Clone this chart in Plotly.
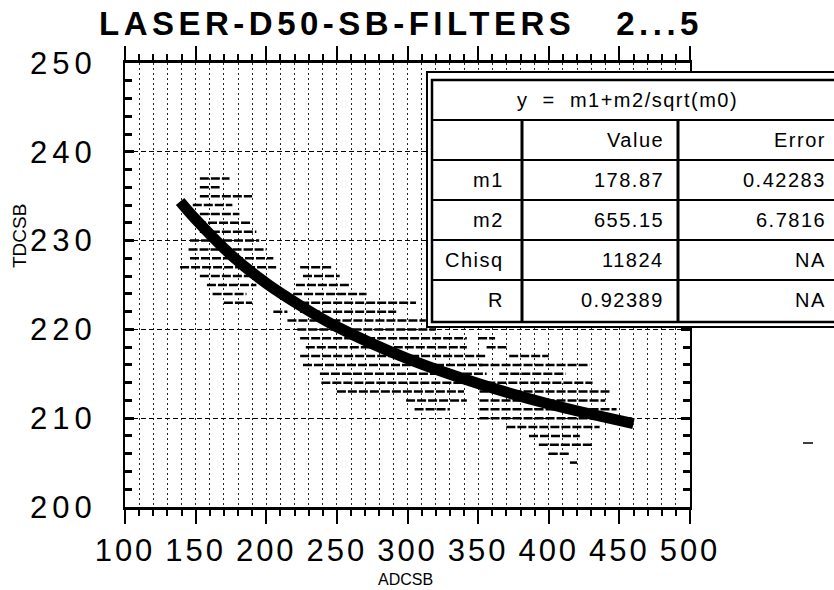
import plotly.graph_objects as go

# ---------------- data ----------------
x_ticks = [100, 150, 200, 250, 300, 350, 400, 450, 500]
x_tick_labels = ["100", "150", "200", "250", "300", "350", "400", "450", "500"]
y_ticks = [200, 210, 220, 230, 240, 250]
y_tick_labels = ["200", "210", "220", "230", "240", "250"]

# horizontal streaks of the binned scatter: (TDC value, ADC start, ADC end)
streak_y = [237, 236, 235, 234, 233, 232, 231, 230, 229, 228,
            227, 227, 226, 226, 225, 225, 224, 224, 223, 223,
            222, 222, 221, 220, 219, 219, 218, 218, 217, 217,
            216, 216, 215, 215, 214, 213, 213, 212, 212, 211,
            211, 210, 209, 208, 207, 206, 205]
streak_x0 = [153, 153, 153, 148, 153, 151, 153, 146, 145, 146,
             139, 224, 153, 226, 158, 221, 162, 219, 170, 224,
             205, 224, 215, 222, 224, 350, 228, 356, 224, 372,
             226, 351, 238, 365, 239, 250, 351, 299, 351, 305,
             351, 351, 370, 386, 393, 400, 415]
streak_x1 = [174, 167, 190, 176, 181, 190, 193, 195, 200, 205,
             207, 247, 200, 252, 193, 259, 186, 271, 190, 306,
             215, 292, 313, 320, 342, 362, 342, 370, 356, 400,
             353, 429, 356, 412, 431, 340, 443, 342, 440, 330,
             448, 460, 436, 422, 431, 415, 420]

# fitted curve y = m1 + m2/sqrt(m0)
fit_x = [139, 150, 175, 200, 225, 250, 300, 350, 400, 460]
fit_y = [234.4, 232.4, 228.4, 225.2, 222.6, 220.3, 216.7, 213.9, 211.6, 209.4]

# fit table
fit_title = "y  =  m1+m2/sqrt(m0)"
param_names = ["m1", "m2", "Chisq", "R"]
param_values = ["178.87", "655.15", "11824", "0.92389"]
param_errors = ["0.42283", "6.7816", "NA", "NA"]

# ---------------- layout helpers ----------------
L, R, T, B = 125, 144, 63, 83
W, H = 834, 590
PW, PH = W - L - R, H - T - B


def px(xp):
    return (xp - L) / PW


def py(yp):
    return (H - B - yp) / PH


def spaced(t, s):
    return f'<span style="letter-spacing:{s}px">{t}</span>'


fig = go.Figure()

sx, sy = [], []
for yv, a, b in zip(streak_y, streak_x0, streak_x1):
    sx += [a, b, None]
    sy += [yv, yv, None]
fig.add_trace(go.Scatter(x=sx, y=sy, mode="lines",
                         line=dict(color="black", width=2.5, dash="9px,2px"),
                         hoverinfo="skip", showlegend=False))
fig.add_trace(go.Scatter(x=fit_x, y=fit_y, mode="lines",
                         line=dict(color="black", width=11, shape="spline"),
                         showlegend=False))

font_tick = dict(family="Liberation Sans, Arial, sans-serif", size=31, color="black")

fig.update_xaxes(
    range=[100, 500], tickmode="array", tickvals=x_ticks,
    ticktext=[spaced(t, 3) for t in x_tick_labels],
    tickfont=font_tick, ticks="outside", ticklen=14, tickwidth=1.5,
    tickcolor="black", ticklabelstandoff=0,
    showline=True, linecolor="black", linewidth=2.5, mirror="allticks",
    showgrid=True, gridcolor="#222", gridwidth=1, griddash="2px,3px",
    minor=dict(dtick=10, ticks="outside", ticklen=6, tickwidth=1.5,
               tickcolor="black", showgrid=True, gridcolor="#222",
               gridwidth=1, griddash="2px,3px"),
    zeroline=False,
)
fig.update_yaxes(
    range=[200, 250], tickmode="array", tickvals=y_ticks,
    ticktext=[spaced(t, 5) for t in y_tick_labels],
    tickfont=font_tick, ticks="inside", ticklen=9, tickwidth=2.5,
    tickcolor="black", ticklabelstandoff=20,
    showline=True, linecolor="black", linewidth=2, mirror="allticks",
    showgrid=True, gridcolor="black", gridwidth=1.3, griddash="5px,3px",
    minor=dict(dtick=2, ticks="inside", ticklen=7, tickwidth=2.5,
               tickcolor="black", showgrid=False),
    zeroline=False,
)

shapes = []
# table frame (white, covers the grid)
shapes.append(dict(type="rect", xref="paper", yref="paper",
                   x0=px(427), x1=px(870), y0=py(72), y1=py(327),
                   line=dict(color="black", width=2), fillcolor="white"))
shapes.append(dict(type="rect", xref="paper", yref="paper",
                   x0=px(432), x1=px(870), y0=py(80), y1=py(322),
                   line=dict(color="black", width=2.5), fillcolor="white"))
for yl in [120, 160, 200, 240, 280]:
    shapes.append(dict(type="line", xref="paper", yref="paper",
                       x0=px(432), x1=px(870), y0=py(yl), y1=py(yl),
                       line=dict(color="black", width=2)))
for xl in [522, 678]:
    shapes.append(dict(type="line", xref="paper", yref="paper",
                       x0=px(xl), x1=px(xl), y0=py(120), y1=py(322),
                       line=dict(color="black", width=3)))
# small stray mark right of the plot
shapes.append(dict(type="line", xref="paper", yref="paper",
                   x0=px(803), x1=px(813), y0=py(443), y1=py(443),
                   line=dict(color="black", width=1.5)))

tfont = dict(family="Liberation Sans, Arial, sans-serif", size=20, color="black")
ann = []


def cell(text, xp, yp, anchor="right"):
    ann.append(dict(text=spaced(text, 1.5), x=px(xp), y=py(yp), xref="paper", yref="paper",
                    xanchor=anchor, yanchor="middle", showarrow=False, font=tfont))


cell(fit_title, 627, 100, "center")
cell("Value", 666, 140)
cell("Error", 828, 140)
for i, (n, v, e) in enumerate(zip(param_names, param_values, param_errors)):
    yc = 180 + 40 * i
    cell(n, 506, yc)
    cell(v, 666, yc)
    cell(e, 828, yc)

# axis titles
ann.append(dict(text="ADCSB", x=px(405), y=py(579), xref="paper", yref="paper",
                showarrow=False, xanchor="center", yanchor="middle",
                font=dict(family="Liberation Sans, Arial, sans-serif", size=16, color="black")))
ann.append(dict(text="TDCSB", x=px(19), y=py(236), xref="paper", yref="paper",
                showarrow=False, xanchor="center", yanchor="middle", textangle=-90,
                font=dict(family="Liberation Sans, Arial, sans-serif", size=19, color="black")))
# title
ann.append(dict(text="<b>" + spaced("LASER-D50-SB-FILTERS   2...5", 4.5) + "</b>",
                x=px(401), y=py(24), xref="paper", yref="paper",
                showarrow=False, xanchor="center", yanchor="middle",
                font=dict(family="Liberation Sans, Arial, sans-serif", size=33, color="black")))

fig.update_layout(
    width=W, height=H,
    margin=dict(l=L, r=R, t=T, b=B),
    paper_bgcolor="white", plot_bgcolor="white",
    shapes=shapes, annotations=ann, showlegend=False,
)

fig.write_html("out.html")
